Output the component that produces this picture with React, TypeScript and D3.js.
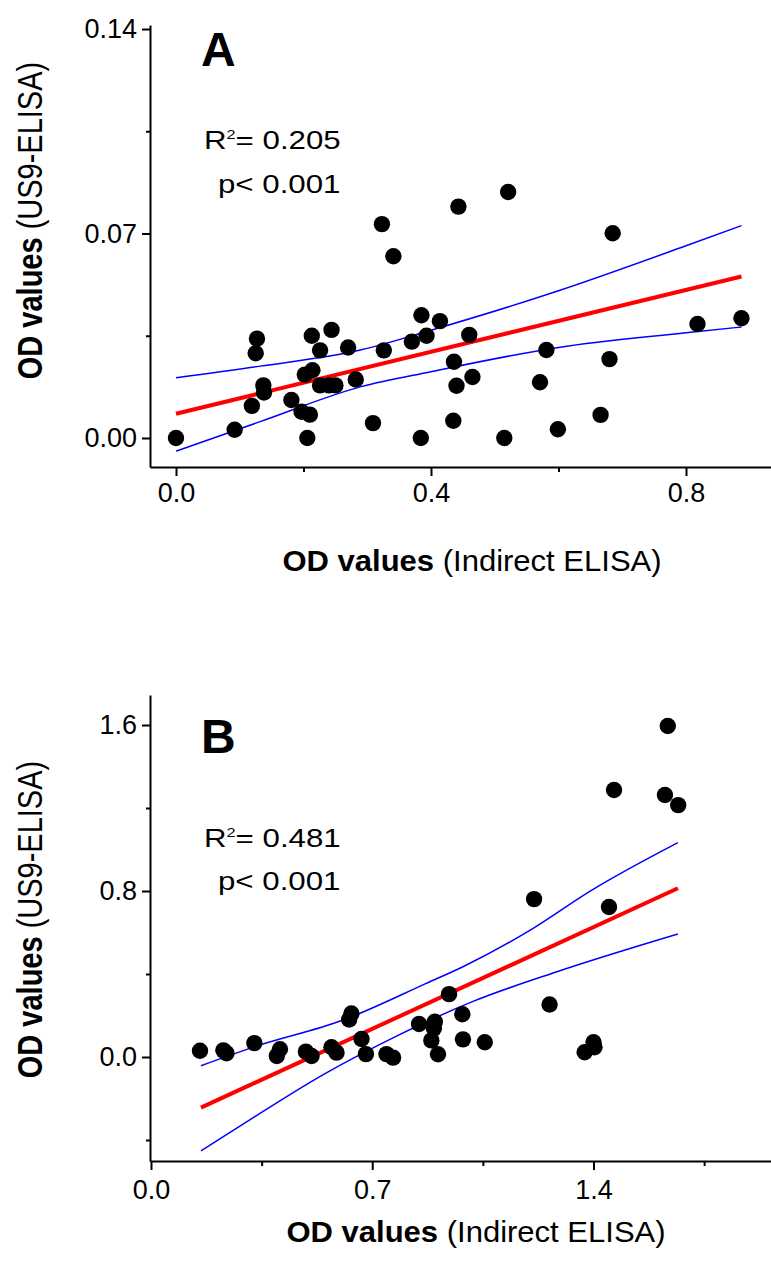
import React, { useEffect, useRef } from 'react';
import * as d3 from 'd3';

// Panel A: OD values, indirect ELISA (x) vs US9-ELISA (y)
const aX = [0.0, 0.092, 0.119, 0.127, 0.125, 0.137, 0.138, 0.181, 0.197, 0.210, 0.206, 0.202, 0.214, 0.213,
  0.226, 0.244, 0.226, 0.240, 0.250, 0.270, 0.282, 0.309, 0.323, 0.326, 0.341, 0.370, 0.384, 0.385, 0.393,
  0.414, 0.435, 0.436, 0.440, 0.443, 0.460, 0.465, 0.515, 0.521, 0.571, 0.581, 0.599, 0.666, 0.680, 0.685,
  0.818, 0.887];
const aY = [0.0, 0.0028, 0.011, 0.034, 0.029, 0.018, 0.0156, 0.013, 0.009, 0.008, 0.0, 0.0217, 0.0232, 0.035,
  0.030, 0.037, 0.018, 0.018, 0.018, 0.031, 0.020, 0.0051, 0.0732, 0.030, 0.0622, 0.033, 0.0, 0.042, 0.035,
  0.040, 0.0059, 0.0261, 0.0179, 0.0792, 0.0353, 0.0209, 0.0, 0.0842, 0.0191, 0.0301, 0.003, 0.0079, 0.027,
  0.0701, 0.039, 0.041];
const aFit = [[0, 0.0083], [0.887, 0.0553]];
const aUpper = [[0, 0.0206], [0.132, 0.0246], [0.289, 0.0301], [0.4, 0.0369], [0.6, 0.0504], [0.8, 0.0658], [0.887, 0.0727]];
const aLower = [[0, -0.0045], [0.132, 0.0056], [0.289, 0.0175], [0.4, 0.0227], [0.6, 0.031], [0.8, 0.036], [0.887, 0.038]];
const aYTicks = [0, 0.07, 0.14];
const aYMinor = [0.035, 0.105];
const aXTicks = [0, 0.4, 0.8];
const aXMinor = [0.2, 0.6];

// Panel B
const bX = [0.155, 0.229, 0.239, 0.327, 0.408, 0.398, 0.490, 0.508, 0.571, 0.587, 0.634, 0.627, 0.666, 0.680,
  0.745, 0.766, 0.848, 0.887, 0.898, 0.895, 0.908, 0.943, 0.985, 0.987, 1.056, 1.212, 1.261, 1.372, 1.400,
  1.403, 1.449, 1.465, 1.626, 1.635, 1.668];
const bY = [0.030, 0.032, 0.018, 0.067, 0.037, 0.005, 0.026, 0.005, 0.047, 0.021, 0.210, 0.181, 0.087, 0.014,
  0.014, -0.003, 0.159, 0.080, 0.170, 0.138, 0.013, 0.303, 0.206, 0.085, 0.071, 0.761, 0.253, 0.023, 0.071,
  0.047, 0.723, 1.287, 1.263, 1.595, 1.214];
const bFit = [[0.158, -0.244], [1.667, 0.813]];
const bUpper = [[0.158, -0.042], [0.329, 0.05], [0.608, 0.178], [0.871, 0.355], [0.987, 0.435], [1.209, 0.62], [1.387, 0.797], [1.667, 1.033]];
const bLower = [[0.158, -0.452], [0.334, -0.282], [0.545, -0.085], [0.756, 0.085], [1.019, 0.268], [1.282, 0.41], [1.667, 0.593]];
const bYTicks = [0, 0.8, 1.6];
const bYMinor = [-0.4, 0.4, 1.2];
const bXTicks = [0, 0.7, 1.4];
const bXMinor = [0.35, 1.05, 1.75];

const FONT = '"Liberation Sans", Arial, Helvetica, sans-serif';

function drawPanel(svg, p) {
  const g = svg.append('g');

  // scales set from two reference ticks, then stretched to the axis ends
  const x0 = d3.scaleLinear().domain(p.xRef).range(p.xRefPx);
  const x = d3.scaleLinear().domain([x0.invert(150), x0.invert(771)]).range([150, 771]);
  const y0 = d3.scaleLinear().domain(p.yRef).range(p.yRefPx);
  const y = d3.scaleLinear().domain([y0.invert(p.bottom), y0.invert(p.top)]).range([p.bottom, p.top]);

  // axes
  const yAxis = g.append('g').attr('transform', 'translate(150,0)')
    .call(d3.axisLeft(y).tickValues(p.yTicks).tickSize(8).tickSizeOuter(0).tickPadding(5).tickFormat(d3.format(p.yFmt)));
  g.append('g').attr('transform', 'translate(150,0)')
    .call(d3.axisLeft(y).tickValues(p.yMinor).tickSize(4).tickFormat(() => ''))
    .select('.domain').remove();
  const xAxis = g.append('g').attr('transform', `translate(0,${p.bottom})`)
    .call(d3.axisBottom(x).tickValues(p.xTicks).tickSize(9).tickSizeOuter(0).tickPadding(p.xPad).tickFormat(d3.format('.1f')));
  g.append('g').attr('transform', `translate(0,${p.bottom})`)
    .call(d3.axisBottom(x).tickValues(p.xMinor).tickSize(5).tickFormat(() => ''))
    .select('.domain').remove();

  g.selectAll('.domain, .tick line').attr('stroke', '#000').attr('stroke-width', 2);
  [yAxis, xAxis].forEach(a => a.selectAll('text')
    .attr('fill', '#000').style('font-family', FONT).style('font-size', '27px'));

  // confidence band and fit
  const line = d3.line().x(d => x(d[0])).y(d => y(d[1])).curve(d3.curveMonotoneX);
  [p.upper, p.lower].forEach(band => {
    g.append('path').datum(band)
      .attr('d', line)
      .attr('fill', 'none').attr('stroke', '#0000ff').attr('stroke-width', 1.5);
  });
  g.append('path').datum(p.fit)
    .attr('d', d3.line().x(d => x(d[0])).y(d => y(d[1])))
    .attr('fill', 'none').attr('stroke', '#ff0000').attr('stroke-width', 4);

  // points
  g.append('g').selectAll('circle')
    .data(p.xs.map((v, i) => [v, p.ys[i]]))
    .join('circle')
    .attr('cx', d => x(d[0]))
    .attr('cy', d => y(d[1]))
    .attr('r', 8.2)
    .attr('fill', '#000');

  // panel letter
  g.append('text').attr('x', 201).attr('y', p.letterY)
    .style('font-family', FONT).style('font-size', '48px').style('font-weight', 'bold')
    .text(p.letter);

  // stats
  const r2 = g.append('text')
    .attr('transform', `translate(204,${p.r2Y}) scale(1.25,1)`)
    .style('font-family', FONT).style('font-size', '25px');
  r2.append('tspan').text('R');
  r2.append('tspan').attr('dy', -10).style('font-size', '13px').text('2');
  r2.append('tspan').attr('dy', 10).text('= ' + p.r2);
  g.append('text')
    .attr('transform', `translate(218,${p.r2Y + 43.7}) scale(1.25,1)`)
    .style('font-family', FONT).style('font-size', '25px')
    .text('p< 0.001');

  // axis titles
  const yt = g.append('text')
    .attr('transform', `translate(41.7,${p.yTitleY}) scale(1.2,1) rotate(-90)`)
    .attr('text-anchor', 'middle')
    .style('font-family', FONT).style('font-size', '29px');
  yt.append('tspan').style('font-weight', 'bold').text('OD values');
  yt.append('tspan').text(' (US9-ELISA)');

  const xt = g.append('text')
    .attr('transform', `translate(${p.xTitleX},${p.xTitleY}) scale(1.07,1)`)
    .attr('text-anchor', 'middle')
    .style('font-family', FONT).style('font-size', '29px');
  xt.append('tspan').style('font-weight', 'bold').text('OD values');
  xt.append('tspan').text(' (Indirect ELISA)');
}

export default function App() {
  const ref = useRef(null);

  useEffect(() => {
    const svg = d3.select(ref.current);
    svg.selectAll('*').remove();

    drawPanel(svg, {
      letter: 'A', letterY: 66, r2: '0.205', r2Y: 149,
      xs: aX, ys: aY, fit: aFit, upper: aUpper, lower: aLower,
      xRef: [0, 0.8], xRefPx: [176, 686],
      yRef: [0, 0.14], yRefPx: [438, 29],
      top: 25, bottom: 467,
      yTicks: aYTicks, yMinor: aYMinor, xTicks: aXTicks, xMinor: aXMinor,
      yFmt: '.2f', xPad: 7,
      yTitleY: 220.5, xTitleX: 472, xTitleY: 570.7,
    });

    drawPanel(svg, {
      letter: 'B', letterY: 752.7, r2: '0.481', r2Y: 846.7,
      xs: bX, ys: bY, fit: bFit, upper: bUpper, lower: bLower,
      xRef: [0, 1.4], xRefPx: [151, 593.5],
      yRef: [0, 1.6], yRefPx: [1057, 725],
      top: 695, bottom: 1161,
      yTicks: bYTicks, yMinor: bYMinor, xTicks: bXTicks, xMinor: bXMinor,
      yFmt: '.1f', xPad: 10,
      yTitleY: 919.5, xTitleX: 476, xTitleY: 1242,
    });
  }, []);

  return (
    <svg ref={ref} width={771} height={1274}
      style={{ position: 'absolute', left: 0, top: 0, background: '#fff', display: 'block' }} />
  );
}
